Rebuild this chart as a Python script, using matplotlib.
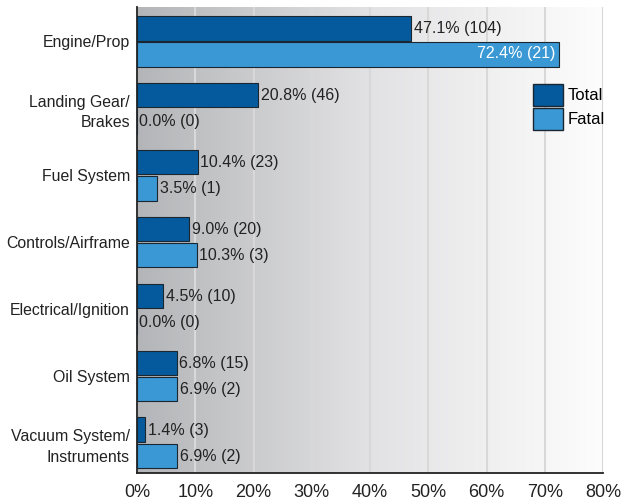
import numpy as np
import matplotlib.pyplot as plt
from matplotlib.colors import LinearSegmentedColormap
from matplotlib.patches import Patch

plt.rcParams["font.family"] = ["Liberation Sans", "DejaVu Sans"]

categories = ["Engine/Prop", "Landing Gear/\nBrakes", "Fuel System", "Controls/Airframe",
              "Electrical/Ignition", "Oil System", "Vacuum System/\nInstruments"]
total_pct = [47.1, 20.8, 10.4, 9.0, 4.5, 6.8, 1.4]
total_n = [104, 46, 23, 20, 10, 15, 3]
fatal_pct = [72.4, 0.0, 3.5, 10.3, 0.0, 6.9, 6.9]
fatal_n = [21, 0, 1, 3, 0, 2, 2]

total_color = "#045a9c"
fatal_color = "#3a98d4"

fig = plt.figure(figsize=(6.24, 5.03), dpi=100)
ax = fig.add_axes([0.2196, 0.0596, 0.7468, 0.9264])

# gradient background
grad = LinearSegmentedColormap.from_list("bg", ["#b4b5b8", "#e2e2e4", "#fdfdfd"])
ax.imshow(np.linspace(0, 1, 256).reshape(1, -1), cmap=grad, aspect="auto",
          extent=[0, 80, 6.45, -0.51], zorder=0)

y = np.arange(len(categories))
h = 0.37
ax.barh(y - h / 2 - 0.01, total_pct, height=h, color=total_color,
        edgecolor="#1a2630", linewidth=0.8, zorder=3)
ax.barh(y + h / 2 + 0.01, fatal_pct, height=h, color=fatal_color,
        edgecolor="#1a2630", linewidth=0.8, zorder=3)

fs = 11.5
for i in range(len(categories)):
    ax.text(total_pct[i] + 0.4, y[i] - h / 2, f"{total_pct[i]:.1f}% ({total_n[i]})",
            va="center", ha="left", fontsize=fs, color="#222222", zorder=4)
    if fatal_pct[i] > 50:
        ax.text(fatal_pct[i] - 0.6, y[i] + h / 2, f"{fatal_pct[i]:.1f}% ({fatal_n[i]})",
                va="center", ha="right", fontsize=fs, color="white", zorder=4)
    else:
        ax.text(fatal_pct[i] + 0.4, y[i] + h / 2 + 0.02, f"{fatal_pct[i]:.1f}% ({fatal_n[i]})",
                va="center", ha="left", fontsize=fs, color="#222222", zorder=4)

ax.set_xlim(0, 80)
ax.set_ylim(6.45, -0.51)
ax.set_xticks(np.arange(0, 81, 10))
ax.set_xticklabels([f"{v}%" for v in range(0, 81, 10)], fontsize=13)
ax.set_yticks(y)
ax.set_yticklabels(categories, fontsize=11.4, linespacing=1.45)
ax.tick_params(axis="both", length=0, colors="#222222")
ax.tick_params(axis="x", pad=8)
ax.tick_params(axis="y", pad=5)
ax.grid(axis="x", color="#d8d8d8", linewidth=1.5, zorder=1)
ax.set_axisbelow(True)
for s in ["top", "right"]:
    ax.spines[s].set_visible(False)
ax.spines["left"].set_color("#222222")
ax.spines["bottom"].set_color("#222222")
ax.spines["left"].set_linewidth(1.3)
ax.spines["bottom"].set_linewidth(1.3)

handles = [Patch(facecolor=total_color, edgecolor="#1a2630", label="Total"),
           Patch(facecolor=fatal_color, edgecolor="#1a2630", label="Fatal")]
ax.legend(handles=handles, loc="upper right", bbox_to_anchor=(1.018, 0.85), frameon=False,
          fontsize=12, handlelength=1.75, handleheight=1.65, handletextpad=0.3,
          labelspacing=0.15, borderaxespad=0)

fig.savefig("out.png", dpi=100)
